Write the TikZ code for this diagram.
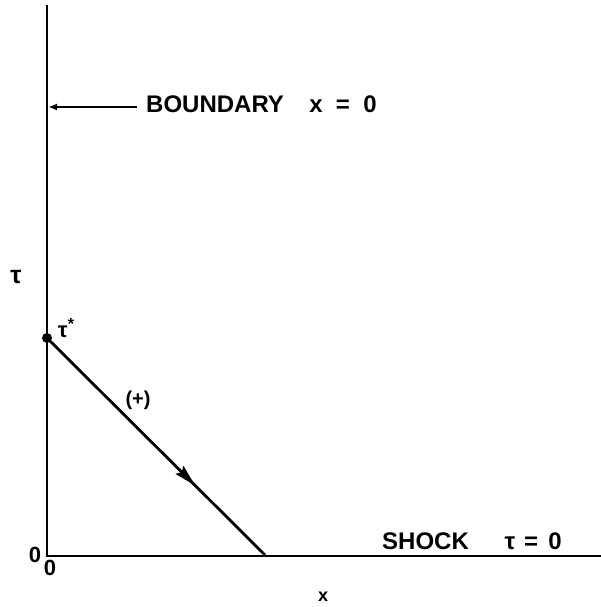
\documentclass[tikz,border=0pt]{standalone}
\usepackage{fontspec}
\newfontfamily\plainfont{Liberation Sans}
\usetikzlibrary{arrows.meta,decorations.markings}
\begin{document}
\begin{tikzpicture}[x=1pt,y=-1pt,
  axis/.style={line width=2.8pt},
  big/.style={font=\plainfont\bfseries\fontsize{24}{28}\selectfont, inner sep=0pt, anchor=base},
  sym/.style={font=\plainfont\bfseries\fontsize{22}{26}\selectfont, inner sep=0pt}]
\useasboundingbox (0,0) rectangle (601,607);
% axes
\coordinate (top) at (47,5);
\coordinate (orig) at (47,556);
\coordinate (right) at (601,556);
\coordinate (taustar) at (47,338);
\coordinate (xend) at (265,555);
\draw[axis] (top) -- (orig) -- (right);
% boundary arrow
\node[big, anchor=base west] (bnd) at (146,113) {BOUNDARY};
\node[big] (bx) at (316,113) {x};
\node[big] (beq) at (343,113) {=};
\node[big] (b0) at (370,113) {0};
\coordinate (bhit) at (48,107);
\coordinate (bstart) at (137,107);
\draw[line width=2.6pt, -{Latex[length=9pt,width=7pt]}] (bstart) -- (bhit);
% characteristic line
\draw[line width=2.8pt,
  decoration={markings, mark=at position 0.68 with {\arrow{Stealth[length=22pt,width=11pt,inset=3pt]}}},
  postaction={decorate}] (taustar) -- (xend);
\fill (taustar) circle (5pt);
% labels
\node[sym, font=\plainfont\bfseries\fontsize{25}{28}\selectfont] (tau) at (16,277) {τ};
\node[sym] (ts) at (66,328) {τ\raisebox{0.35em}{\fontsize{16}{18}\selectfont *}};
\node[sym, font=\plainfont\bfseries\fontsize{20}{24}\selectfont] (plus) at (138,400) {(+)};
\node[sym] (o1) at (35,555) {0};
\node[sym] (o2) at (50,568) {0};
\node[sym, font=\plainfont\bfseries\fontsize{18}{21}\selectfont] (xl) at (323,597) {x};
\node[big, anchor=base west] (shock) at (382,549) {SHOCK};
\node[big] (stau) at (510,549) {τ};
\node[big] (seq) at (531,549) {=};
\node[big] (s0) at (555,549) {0};
\end{tikzpicture}
\end{document}
